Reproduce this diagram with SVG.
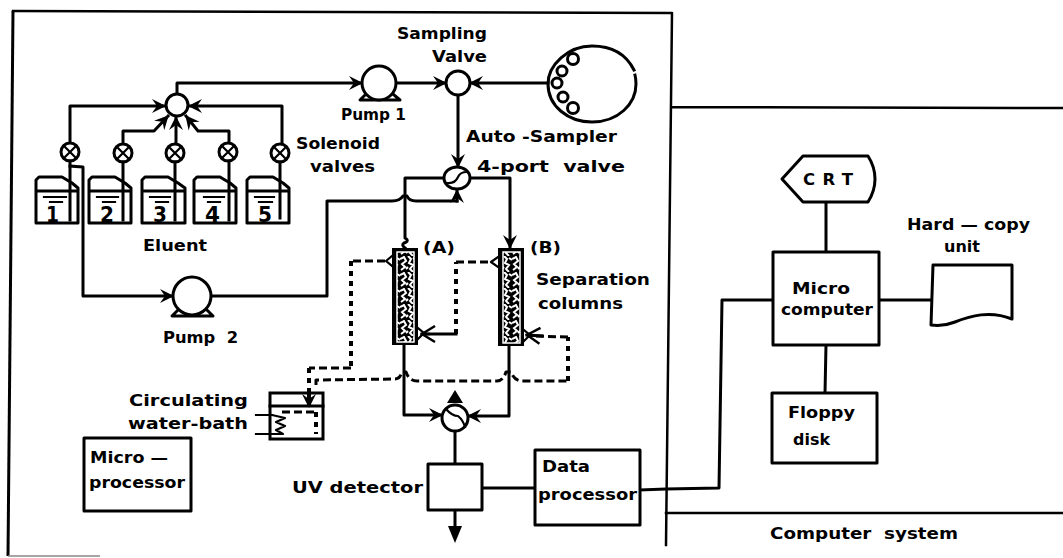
<svg xmlns="http://www.w3.org/2000/svg" width="1063" height="558" viewBox="0 0 1063 558">
<style>
text{font-family:"DejaVu Sans","Liberation Sans",sans-serif;font-size:16.5px;font-weight:700;fill:#000;white-space:pre}
.n{font-size:21px}
.s,.c,.d,.e,.t,.f{fill:none;stroke:#000;stroke-linejoin:round;stroke-linecap:square}
.s{stroke-width:3}
.t{stroke-width:2.2}
.c{stroke-width:3}
.d{stroke-width:3;stroke-dasharray:8 4;stroke-linecap:butt}
.e{stroke-width:4;stroke-dasharray:5 5;stroke-linecap:butt}
.f{stroke-width:2.5}
.w{fill:#fff;stroke:#000;stroke-width:3;stroke-linejoin:round}
.k{fill:#000}
</style>
<defs>
<marker id="a" markerUnits="userSpaceOnUse" markerWidth="16" markerHeight="16" refX="14" refY="8" orient="auto"><path d="M1,1 L15,8 L1,15 L6,8 Z" fill="#000"/></marker>
<marker id="b" markerUnits="userSpaceOnUse" markerWidth="18" markerHeight="18" refX="16" refY="9" orient="auto"><path d="M3,1 L16,9 L3,17 M16,9 L8,9" fill="none" stroke="#000" stroke-width="2.4"/></marker>
<pattern id="p" width="16" height="16" patternUnits="userSpaceOnUse"><rect width="16" height="16" fill="#000"/><path d="M0,3 L4,1 L6,5 L2,8 L5,11 L1,14 M8,0 L11,3 L9,7 L13,9 L10,13 L13,16 M13,2 L16,4 M6,13 L8,11" fill="none" stroke="#fff" stroke-width="2"/></pattern>
</defs>

<g id="frame">
<path class="f" d="M13,11 L672,13 L666,545 M672,107 L1063,108 M666,513 L1063,513"/>
<path d="M13,11 L8,556" fill="none" stroke="#000" stroke-width="3"/>
<path d="M8,556 L100,556" fill="none" stroke="#888" stroke-width="1.5"/>
</g>

<g id="connectors">
<path class="c" marker-end="url(#a)" d="M70,143 L70,106 L165,106"/>
<path class="c" marker-end="url(#a)" d="M123,144 L123,131 L154,131 L168,116"/>
<path class="c" marker-end="url(#a)" d="M176,143 L176,117"/>
<path class="c" marker-end="url(#a)" d="M229,143 L229,131 L198,131 L186,116"/>
<path class="c" marker-end="url(#a)" d="M282,144 L282,106 L189,106"/>
<path class="c" marker-end="url(#a)" d="M177,94 L177,83 L362,83"/>
<path class="c" marker-end="url(#a)" d="M397,83 L446,83"/>
<path class="c" marker-end="url(#a)" d="M548,83 L470,83"/>
<path class="c" marker-end="url(#a)" d="M458,95 L458,167"/>
<path class="c" d="M445,178 L405,178 L405,238 Q410,241 404,243 Q401,245 405,248"/>
<path class="c" marker-end="url(#a)" d="M470,178 L510,178 L510,248"/>
<path class="c" marker-end="url(#a)" d="M457,201 L457,190"/>
<path class="c" d="M457,201 L416,201 Q409,201 407,196 L403,196 Q400,201 392,201 L327,201 L327,296 L211,296"/>
<path class="c" marker-end="url(#a)" d="M70,166 L83,167 L83,296 L173,296"/>
<path class="c" marker-end="url(#a)" d="M404,346 L404,415 L442,415"/>
<path class="c" marker-end="url(#a)" d="M509,346 L509,416 L468,416"/>
<path class="c" d="M455,431 L455,464"/>
<path class="c" d="M455,510 L455,530"/>
<path class="k" d="M455,390 L463,403 L447,403 Z"/>
<path class="k" d="M448,526 L462,526 L455,543 Z"/>
<path class="c" d="M482,488 L535,488"/>
<path class="c" d="M640,490 L666,489 L719,488 L722,300 L773,300"/>
<path class="c" d="M826,202 L826,252 M826,345 L825,393 M880,300 L932,300"/>
<path class="d" d="M385,261 L351,261"/>
<path class="e" d="M351,261 L351,368"/>
<path class="d" d="M351,368 L309,368"/>
<path class="e" d="M309,368 L309,394"/>
<path class="e" marker-end="url(#a)" d="M309,394 L309,407"/>
<path class="d" d="M316,385 L316,380 L395,379 Q400,379 402,372 L406,372 Q409,381 417,381 L497,381 Q503,381 506,372 L511,372 Q514,381 523,381 L568,381"/>
<path class="e" d="M568,381 L568,337"/>
<path class="d" d="M568,337 L535,336"/>
<path class="e" d="M456,334 L456,262"/>
<path class="d" d="M456,262 L490,262"/>
<path class="c" marker-end="url(#b)" d="M456,334 L422,334"/>
<path class="c" marker-end="url(#b)" d="M542,336 L527,335"/>
</g>

<g id="mixer"><circle class="w" cx="177" cy="105" r="11"/></g>

<g id="solenoid-valves">
<g id="valve-1"><circle class="w" cx="70" cy="152" r="9"/><path class="t" d="M64,146 L76,158 M76,146 L64,158"/></g>
<g id="valve-2"><circle class="w" cx="123" cy="153" r="9"/><path class="t" d="M117,147 L129,159 M129,147 L117,159"/></g>
<g id="valve-3"><circle class="w" cx="175" cy="153" r="9"/><path class="t" d="M169,147 L181,159 M181,147 L169,159"/></g>
<g id="valve-4"><circle class="w" cx="228" cy="152" r="9"/><path class="t" d="M222,146 L234,158 M234,146 L222,158"/></g>
<g id="valve-5"><circle class="w" cx="280" cy="153" r="9"/><path class="t" d="M274,147 L286,159 M286,147 L274,159"/></g>
</g>

<g id="bottle-1"><path class="c" d="M70,161 L70,220"/><path class="s" d="M36,223 L36,180 L39,177 L62,177 L72,183 L78,188 L78,223 Z M36,191 L78,191"/><path class="t" d="M44,197 L66,197 M50,202 L62,202"/><text class="n" x="46" y="222" textLength="13" lengthAdjust="spacingAndGlyphs">1</text></g>
<g id="bottle-2"><path class="c" d="M123,162 L123,220"/><path class="s" d="M89,223 L89,180 L92,177 L115,177 L125,183 L131,188 L131,223 Z M89,191 L131,191"/><path class="t" d="M97,197 L118,197 M103,202 L115,202"/><text class="n" x="100" y="222" textLength="14" lengthAdjust="spacingAndGlyphs">2</text></g>
<g id="bottle-3"><path class="c" d="M175,162 L175,220"/><path class="s" d="M142,223 L142,180 L145,177 L168,177 L178,183 L185,188 L185,223 Z M142,191 L185,191"/><path class="t" d="M150,197 L170,197 M156,202 L168,202"/><text class="n" x="153" y="222" textLength="14" lengthAdjust="spacingAndGlyphs">3</text></g>
<g id="bottle-4"><path class="c" d="M229,161 L229,220"/><path class="s" d="M194,223 L194,180 L197,177 L220,177 L230,183 L236,188 L236,223 Z M194,191 L236,191"/><path class="t" d="M204,197 L224,197 M208,202 L220,202"/><text class="n" x="205" y="222" textLength="15" lengthAdjust="spacingAndGlyphs">4</text></g>
<g id="bottle-5"><path class="c" d="M280,162 L280,218"/><path class="s" d="M247,223 L247,180 L250,177 L273,177 L283,183 L289,188 L289,223 Z M247,191 L289,191"/><path class="t" d="M255,197 L274,197 M259,202 L272,202"/><text class="n" x="258" y="222" textLength="14" lengthAdjust="spacingAndGlyphs">5</text></g>

<g id="pump-1"><path class="s" d="M366,94 L360,100 L400,100 L393,94"/><circle class="w" cx="379" cy="83" r="17"/></g>
<g id="pump-2"><path class="s" d="M180,308 L172,316 L213,316 L205,308"/><circle class="w" cx="192" cy="296" r="19"/></g>
<g id="sampling-valve"><circle class="w" cx="458" cy="83" r="12"/></g>
<g id="auto-sampler"><path class="s" d="M634,70 C625,52 610,46 592,46 C568,46 548,65 548,84 C548,106 568,122 592,122 C618,122 636,104 636,84 Q636,79 635,75"/>
<circle class="w" cx="573" cy="59" r="5.5"/><circle class="w" cx="562" cy="71" r="5"/><circle class="w" cx="557" cy="83" r="5"/><circle class="w" cx="563" cy="97" r="5"/><circle class="w" cx="573" cy="108" r="5.5"/></g>
<g id="port-valve"><ellipse class="w" cx="457" cy="178" rx="13" ry="11"/><path class="t" d="M447,183 Q455,184 458,177 Q460,172 467,172"/></g>
<g id="column-a"><rect x="392" y="248" width="26" height="97" fill="#000"/><rect x="397" y="252" width="17" height="90" fill="url(#p)" stroke="#fff" stroke-width="1.5"/><path class="t" d="M392,256 L386,261 L392,266"/><path class="t" d="M418,328 L424,333 L418,339"/></g>
<g id="column-b"><rect x="498" y="248" width="26" height="98" fill="#000"/><rect x="503" y="252" width="17" height="91" fill="url(#p)" stroke="#fff" stroke-width="1.5"/><path class="t" d="M498,257 L491,262 L498,267"/><path class="t" d="M524,330 L530,335 L524,341"/></g>
<g id="water-bath"><rect x="270" y="393" width="53" height="46" fill="none" stroke="#000" stroke-width="3"/><path class="s" d="M270,406 L323,406"/><path class="d" d="M282,412 L316,412"/><path class="e" d="M316,412 L316,434"/><path class="t" d="M256,415 L272,415 M256,434 L272,434 M272,415 L285,418 L276,422 L285,426 L276,430 L283,434 L272,434"/></g>
<g id="uv-detector"><rect class="w" x="428" y="464" width="54" height="46"/></g>
<g id="flow-valve"><circle class="w" cx="455" cy="418" r="13"/><path class="t" d="M446,409 Q452,416 458,416 Q463,420 465,427"/></g>
<g id="data-processor"><rect class="w" x="535" y="450" width="105" height="75"/></g>
<g id="micro-processor"><rect class="w" x="84" y="438" width="107" height="73"/></g>
<g id="crt"><path class="w" d="M782,179 L803,156 L868,156 Q875,167 875,179 Q875,191 868,202 L803,202 Z"/></g>
<g id="micro-computer"><rect class="w" x="773" y="252" width="106" height="93"/></g>
<g id="floppy"><rect class="w" x="772" y="393" width="105" height="70"/></g>
<g id="hard-copy"><path class="w" d="M933,265 L1012,265 L1012,319 C990,310 970,316 955,322 C945,326 938,326 931,325 Z"/></g>

<g id="labels">
<text x="397" y="39" textLength="90" lengthAdjust="spacingAndGlyphs">Sampling</text>
<text x="432" y="62" textLength="55" lengthAdjust="spacingAndGlyphs">Valve</text>
<text x="341" y="120" textLength="65" lengthAdjust="spacingAndGlyphs">Pump 1</text>
<text x="296" y="149" textLength="84" lengthAdjust="spacingAndGlyphs">Solenoid</text>
<text x="310" y="172" textLength="65" lengthAdjust="spacingAndGlyphs">valves</text>
<text x="466" y="142" textLength="151" lengthAdjust="spacingAndGlyphs">Auto -Sampler</text>
<text x="477" y="172" textLength="148" lengthAdjust="spacingAndGlyphs">4-port  valve</text>
<text x="423" y="253" textLength="32" lengthAdjust="spacingAndGlyphs">(A)</text>
<text x="530" y="253" textLength="31" lengthAdjust="spacingAndGlyphs">(B)</text>
<text x="536" y="285" textLength="114" lengthAdjust="spacingAndGlyphs">Separation</text>
<text x="538" y="309" textLength="85" lengthAdjust="spacingAndGlyphs">columns</text>
<text x="143" y="251" textLength="64" lengthAdjust="spacingAndGlyphs">Eluent</text>
<text x="163" y="343" textLength="75" lengthAdjust="spacingAndGlyphs">Pump  2</text>
<text x="129" y="406" textLength="119" lengthAdjust="spacingAndGlyphs">Circulating</text>
<text x="128" y="429" textLength="120" lengthAdjust="spacingAndGlyphs">water-bath</text>
<text x="90" y="463" textLength="78" lengthAdjust="spacingAndGlyphs">Micro —</text>
<text x="89" y="488" textLength="96" lengthAdjust="spacingAndGlyphs">processor</text>
<text x="292" y="493" textLength="131" lengthAdjust="spacingAndGlyphs">UV detector</text>
<text x="542" y="472" textLength="48" lengthAdjust="spacingAndGlyphs">Data</text>
<text x="538" y="500" textLength="99" lengthAdjust="spacingAndGlyphs">processor</text>
<text x="803" y="185" textLength="50" lengthAdjust="spacing">CRT</text>
<text x="907" y="230" textLength="123" lengthAdjust="spacingAndGlyphs">Hard — copy</text>
<text x="944" y="252" textLength="36" lengthAdjust="spacingAndGlyphs">unit</text>
<text x="792" y="294" textLength="58" lengthAdjust="spacingAndGlyphs">Micro</text>
<text x="781" y="315" textLength="92" lengthAdjust="spacingAndGlyphs">computer</text>
<text x="788" y="418" textLength="67" lengthAdjust="spacingAndGlyphs">Floppy</text>
<text x="793" y="445" textLength="37" lengthAdjust="spacingAndGlyphs">disk</text>
<text x="770" y="539" textLength="188" lengthAdjust="spacingAndGlyphs">Computer  system</text>
</g>
</svg>
